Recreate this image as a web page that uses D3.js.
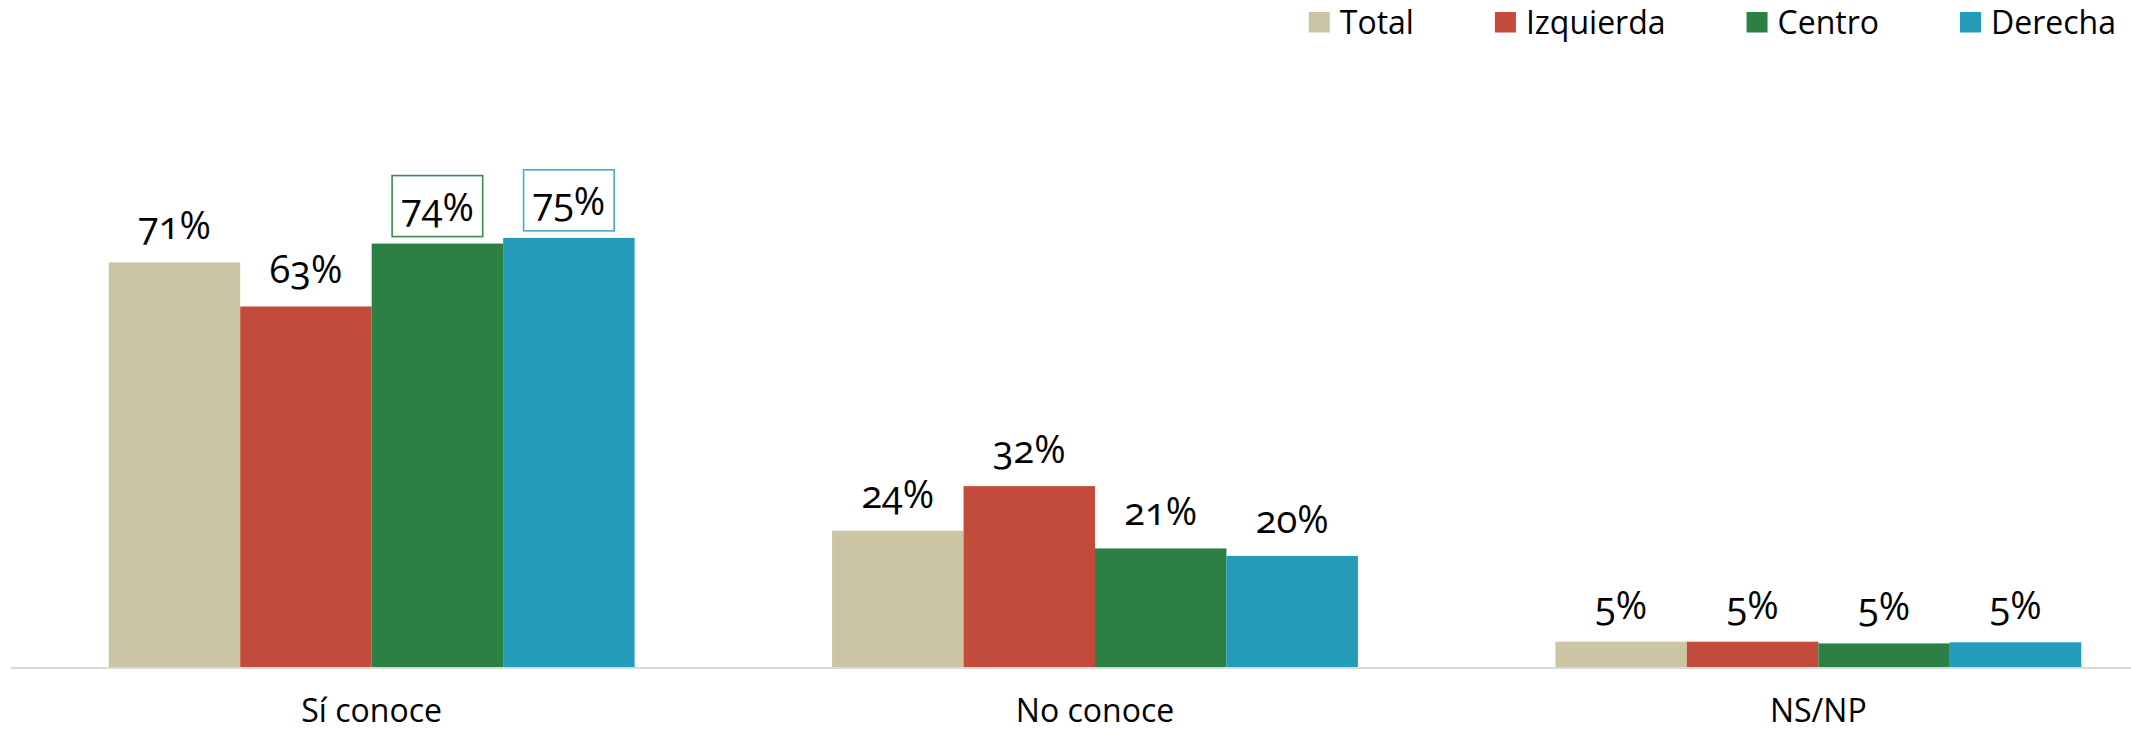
<!DOCTYPE html>
<html>
<head>
<meta charset="utf-8">
<script src="https://cdn.jsdelivr.net/npm/d3@7"></script>
<style>
  html, body { margin: 0; padding: 0; background: #fff; }
  svg { display: block; font-family: "Open Sans", sans-serif; }
  .lbl { font-size: 38px; fill: #000; font-variant-numeric: oldstyle-nums; }
  .cat { font-size: 32px; fill: #000; }
  .leg { font-size: 32px; fill: #000; }
</style>
</head>
<body>
<div id="chart"></div>
<script>
  // --- data ---
  const categories = ["Sí conoce", "No conoce", "NS/NP"];
  const series = ["Total", "Izquierda", "Centro", "Derecha"];
  const colors = ["#CCC5A3", "#C34B3C", "#2C8044", "#249BB8"];
  const boxColors = [null, null, "#3A8A50", "#4AAAC8"];

  const total     = [70.9, 24.0, 4.6];
  const izquierda = [63.2, 31.8, 4.6];
  const centro    = [74.2, 20.9, 4.3];
  const derecha   = [75.2, 19.6, 4.5];
  const values = [total, izquierda, centro, derecha];

  const totalLbl     = ["71%", "24%", "5%"];
  const izquierdaLbl = ["63%", "32%", "5%"];
  const centroLbl    = ["74%", "21%", "5%"];
  const derechaLbl   = ["75%", "20%", "5%"];
  const labels = [totalLbl, izquierdaLbl, centroLbl, derechaLbl];

  // labels drawn inside a thin frame (category, series)
  const boxed = [["Sí conoce", "Centro"], ["Sí conoce", "Derecha"]];

  const W = 2131, H = 732;
  const svg = d3.select("#chart").append("svg").attr("width", W).attr("height", H);

  const x0 = d3.scaleBand().domain(categories).range([10, 2180]).paddingInner(0.273).paddingOuter(0.1365);
  const x1 = d3.scaleBand().domain(series).range([0, x0.bandwidth()]);
  const y = d3.scaleLinear().domain([0, 100]).range([668, 96]);

  const rows = [];
  series.forEach((s, si) => categories.forEach((c, ci) => rows.push({ s, si, c, v: values[si][ci], t: labels[si][ci] })));

  // bars
  svg.append("g").selectAll("rect").data(rows).join("rect")
    .attr("x", d => x0(d.c) + x1(d.s))
    .attr("y", d => y(d.v))
    .attr("width", x1.bandwidth())
    .attr("height", d => y(0) - y(d.v))
    .attr("fill", d => colors[d.si]);

  // baseline
  svg.append("line")
    .attr("x1", 11).attr("x2", W).attr("y1", y(0)).attr("y2", y(0))
    .attr("stroke", "#D9D9D9").attr("stroke-width", 2);

  // value labels (+ frames on a couple of them)
  const lg = svg.append("g");
  rows.forEach(d => {
    const cx = x0(d.c) + x1(d.s) + x1.bandwidth() / 2;
    const by = y(d.v) - 23;
    if (boxed.some(b => b[0] === d.c && b[1] === d.s)) {
      lg.append("rect")
        .attr("x", cx - 45.3).attr("y", by - 45).attr("width", 90.6).attr("height", 61)
        .attr("fill", "#fff").attr("stroke", boxColors[d.si]).attr("stroke-width", 1.6);
    }
    lg.append("text").attr("class", "lbl")
      .attr("x", cx).attr("y", by).attr("text-anchor", "middle").text(d.t);
  });

  // category axis labels
  svg.append("g").selectAll("text").data(categories).join("text")
    .attr("class", "cat")
    .attr("x", d => x0(d) + x0.bandwidth() / 2)
    .attr("y", 722)
    .attr("text-anchor", "middle")
    .text(d => d);

  // legend, laid out right to left from the right edge
  const leg = svg.append("g");
  const sw = 21, gapTxt = 10, gapItem = 81;
  let right = 2116;
  for (let i = series.length - 1; i >= 0; i--) {
    const t = leg.append("text").attr("class", "leg").attr("y", 34).text(series[i]);
    const tw = t.node().getComputedTextLength();
    t.attr("x", right - tw);
    leg.append("rect")
      .attr("x", right - tw - gapTxt - sw).attr("y", 12).attr("width", sw).attr("height", 20.5)
      .attr("fill", colors[i]);
    right = right - tw - gapTxt - sw - gapItem;
  }
</script>
</body>
</html>
